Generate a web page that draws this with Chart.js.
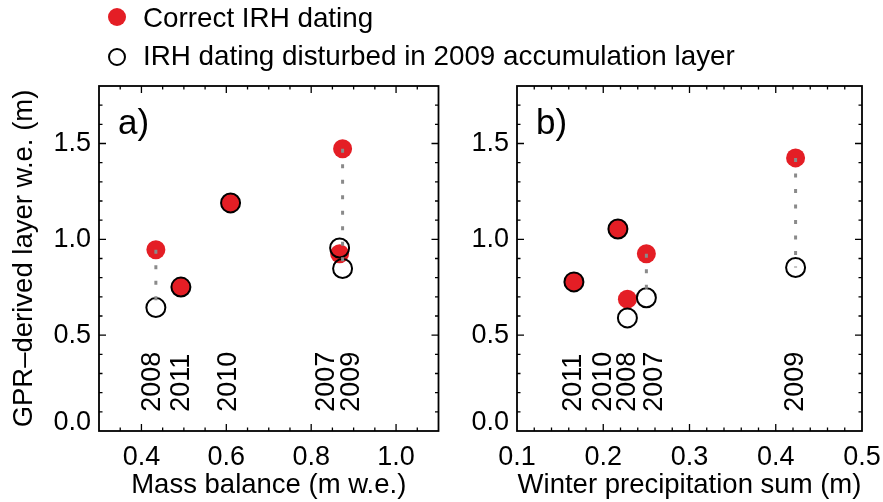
<!DOCTYPE html>
<html><head><meta charset="utf-8">
<script src="https://cdn.jsdelivr.net/npm/chart.js@4/dist/chart.umd.min.js"></script>
<style>
html,body{margin:0;padding:0;background:#fff;}
body{width:883px;height:502px;position:relative;overflow:hidden;font-family:"Liberation Sans",Arial,sans-serif;}
#cA{position:absolute;left:0;top:0;}
#cB{position:absolute;left:450px;top:0;}
.lg{position:absolute;left:143px;font-size:27.8px;line-height:27px;color:#000;white-space:nowrap;}
.mk{position:absolute;width:18px;height:18px;border-radius:50%;box-sizing:border-box;}
</style></head><body>
<canvas id="cA" width="450" height="502"></canvas>
<canvas id="cB" width="433" height="502"></canvas>
<div class="mk" style="left:108px;top:8px;background:#e41e25"></div>
<div class="lg" style="top:4px">Correct IRH dating</div>
<div class="mk" style="left:108px;top:48px;border:2.6px solid #000"></div>
<div class="lg" style="top:42px">IRH dating disturbed in 2009 accumulation layer</div>
<script>
// ---- data ----
const years = ['2008','2011','2010','2007','2009'];
const massBalance  = [0.434, 0.493, 0.610, 0.867, 0.874];
const winterPrecip = [0.228, 0.166, 0.217, 0.250, 0.423];
const correctA     = [0.946, 0.751, 1.190, 0.925, 1.473];
const disturbedA   = [0.644, 0.751, 1.190, 0.955, 0.848];
const correctB     = [0.688, 0.778, 1.054, 0.925, 1.425];
const disturbedB   = [0.590, 0.778, 1.054, 0.695, 0.853];
const linkedA = ['2008','2009'];
const linkedB = ['2007','2009'];
const yearLabelXA = [0.426, 0.495, 0.606, 0.837, 0.896];
const yearLabelXB = [0.228, 0.166, 0.200, 0.260, 0.423];
const yearLabelY = 0.1;
const yTicks  = [0.0, 0.5, 1.0, 1.5];
const xTicksA = [0.4, 0.6, 0.8, 1.0];
const xTicksB = [0.1, 0.2, 0.3, 0.4, 0.5];

const FONT = '"Liberation Sans", Arial, Helvetica, sans-serif';
Chart.defaults.font.family = FONT;
Chart.defaults.color = '#000';
const RED = '#e41e25';

const framePlugin = {
  id: 'frame',
  afterDatasetsDraw(chart, args, o) {
    const {ctx, chartArea: a, scales: {x, y}} = chart;
    ctx.save();
    ctx.strokeStyle = '#000';
    ctx.lineWidth = 1.3;
    const near = (p, q) => Math.abs(p - q) < 1e-6;
    for (let k = 0; ; k++) {
      const v = o.xMin + k * o.xMinor;
      if (v > o.xMax + 1e-9) break;
      if (near(v, o.xMin) || near(v, o.xMax)) continue;
      const major = o.xTicks.some(t => near(t, v));
      const len = major ? 7 : 3.5;
      const px = x.getPixelForValue(v);
      ctx.beginPath();
      ctx.moveTo(px, a.bottom); ctx.lineTo(px, a.bottom - len);
      ctx.moveTo(px, a.top); ctx.lineTo(px, a.top + len);
      ctx.stroke();
    }
    for (let k = 0; ; k++) {
      const v = k * 0.1;
      if (v > 1.8 + 1e-9) break;
      if (near(v, 0) || near(v, 1.8)) continue;
      const major = yTicks.some(t => near(t, v));
      const len = major ? 7 : 3.5;
      const py = y.getPixelForValue(v);
      ctx.beginPath();
      ctx.moveTo(a.left, py); ctx.lineTo(a.left + len, py);
      ctx.moveTo(a.right, py); ctx.lineTo(a.right - len, py);
      ctx.stroke();
    }
    ctx.lineWidth = 1.8;
    ctx.strokeRect(a.left, a.top, a.right - a.left, a.bottom - a.top);
    ctx.fillStyle = '#000';
    ctx.font = '27px ' + FONT;
    o.labelXs.forEach((lx, i) => {
      ctx.save();
      ctx.translate(x.getPixelForValue(lx), y.getPixelForValue(yearLabelY));
      ctx.rotate(-Math.PI / 2);
      ctx.textAlign = 'left';
      ctx.textBaseline = 'middle';
      ctx.fillText(years[i], 0, 0);
      ctx.restore();
    });
    ctx.textAlign = 'right';
    ctx.textBaseline = 'middle';
    ctx.fillText('0.0', a.left - 8, y.getPixelForValue(0) - 8);
    ctx.font = '35px ' + FONT;
    ctx.textAlign = 'left';
    ctx.fillText(o.panel, a.left + 19, a.top + 38);
    ctx.restore();
  }
};

function makeChart(id, xs, correct, disturbed, linked, labelXs, xMin, xMax, xTicks, xMinor, xTitle, yTitle, yWidth, padRight, panel) {
  const pts = ys => xs.map((xv, i) => ({x: xv, y: ys[i]}));
  const lines = linked.map(yr => {
    const i = years.indexOf(yr);
    return {type: 'line', data: [{x: xs[i], y: correct[i]}, {x: xs[i], y: disturbed[i]}],
      borderColor: '#8a8a8a', borderWidth: 3, borderDash: [4, 11.5], pointRadius: 0, fill: false, order: 0};
  });
  return new Chart(document.getElementById(id), {
    type: 'scatter',
    data: {datasets: [
      ...lines,
      {type: 'scatter', data: pts(disturbed), pointRadius: 9.5, pointBackgroundColor: 'rgba(0,0,0,0)',
        pointBorderColor: '#000', pointBorderWidth: 2, order: 1},
      {type: 'scatter', data: pts(correct), pointRadius: 9.5, pointBackgroundColor: RED,
        pointBorderWidth: 0, pointBorderColor: RED, order: 2}
    ]},
    options: {
      responsive: false, animation: false, events: [],
      layout: {padding: {top: 86, right: padRight, left: 0, bottom: 0}},
      plugins: {legend: {display: false}, tooltip: {enabled: false},
        frame: {xMin, xMax, xTicks, xMinor, labelXs, panel}},
      scales: {
        x: {type: 'linear', min: xMin, max: xMax,
          grid: {display: false, drawTicks: false}, border: {display: false},
          afterBuildTicks: s => { s.ticks = xTicks.map(v => ({value: v})); },
          afterFit: s => { s.height = 71; s.paddingLeft = 0; s.paddingRight = 0; },
          ticks: {font: {size: 27}, color: '#000', padding: 10, maxRotation: 0, autoSkip: false,
            callback: v => Number(v).toFixed(1)},
          title: {display: true, text: xTitle, font: {size: 27.5}, color: '#000', padding: {top: 0, bottom: 0}}
        },
        y: {type: 'linear', min: 0, max: 1.8,
          grid: {display: false, drawTicks: false}, border: {display: false},
          afterBuildTicks: s => { s.ticks = yTicks.map(v => ({value: v})); },
          afterFit: s => { s.width = yWidth; s.paddingTop = 0; s.paddingBottom = 0; },
          ticks: {font: {size: 27}, color: '#000', padding: 8, autoSkip: false,
            callback: v => (Math.abs(v) < 1e-9 ? '' : Number(v).toFixed(1))},
          title: {display: !!yTitle, text: yTitle || '', font: {size: 27.5}, color: '#000', padding: {top: 8, bottom: 0}}
        }
      }
    },
    plugins: [framePlugin]
  });
}

makeChart('cA', massBalance, correctA, disturbedA, linkedA, yearLabelXA, 0.3, 1.1, xTicksA, 0.05,
  'Mass balance (m w.e.)', 'GPR\u2013derived layer w.e. (m)', 99, 6, 'a)');
makeChart('cB', winterPrecip, correctB, disturbedB, linkedB, yearLabelXB, 0.1, 0.5, xTicksB, 0.02,
  'Winter precipitation sum (m)', '', 67, 21, 'b)');
</script>
</body></html>
